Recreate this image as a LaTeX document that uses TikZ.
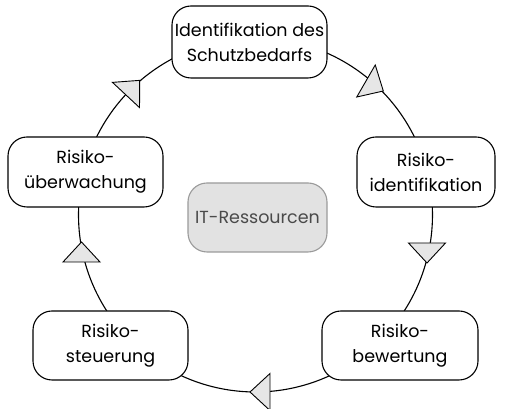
\documentclass[tikz,border=0pt]{standalone}
\usepackage{fontspec}
\setmainfont{Poppins}
\usetikzlibrary{calc}

\definecolor{tripale}{HTML}{E6E6E6}
\definecolor{corefill}{HTML}{E2E2E2}
\definecolor{coreline}{HTML}{9A9A9A}
\definecolor{coretext}{HTML}{4A4A4A}

\tikzset{
  stage/.style={draw=black, line width=1.1pt, fill=white, rounded corners=19pt,
    align=center, inner sep=0pt, font=\fontsize{17.5}{25}\selectfont},
  core/.style={draw=coreline, line width=1.1pt, fill=corefill, rounded corners=19pt,
    align=center, inner sep=0pt, text=coretext, font=\fontsize{17.5}{25}\selectfont},
  ring/.style={draw=black, line width=1.1pt},
  flowtip/.style={draw=black, line width=0.9pt, fill=tripale, line join=miter}
}

% arrowhead: base midpoint #1, pointing direction #2
\newcommand{\flowhead}[2]{%
  \draw[flowtip] ($(#1)+(#2+90:18.5)$) -- ($(#1)+(#2-90:18.5)$) -- ($(#1)+(#2:20)$) -- cycle;}

\begin{document}
\begin{tikzpicture}[x=1pt,y=1pt]
\useasboundingbox (0,0) rectangle (507,409);

\coordinate (C) at (255.5,194);
\def\R{177}

% the cycle
\draw[ring] (C) ++(92:\R) coordinate (a1) arc[start angle=92, end angle=14, radius=\R];
\draw[ring] (C) ++(14:\R) coordinate (a2) arc[start angle=14, end angle=-42, radius=\R];
\draw[ring] (C) ++(-42:\R) coordinate (a3) arc[start angle=-42, end angle=-138, radius=\R];
\draw[ring] (C) ++(-138:\R) coordinate (a4) arc[start angle=-138, end angle=-194, radius=\R];
\draw[ring] (C) ++(166:\R) coordinate (a5) arc[start angle=166, end angle=92, radius=\R];

% stages
\node[stage, minimum width=155pt, minimum height=72pt] (schutz) at (249.5,367)
  {Identifikation des\\Schutzbedarfs};
\node[stage, minimum width=138pt, minimum height=70pt] (ident) at (426,237)
  {Risiko-\\identifikation};
\node[stage, minimum width=156pt, minimum height=69pt] (bew) at (400,63.5)
  {Risiko-\\bewertung};
\node[stage, minimum width=155pt, minimum height=69pt] (steu) at (110.5,63.5)
  {Risiko-\\steuerung};
\node[stage, minimum width=155pt, minimum height=70pt] (ueber) at (85.5,237)
  {Risiko-\\überwachung};
\node[core, minimum width=139pt, minimum height=69pt] (it) at (257.5,191.5)
  {IT-Ressourcen};

% direction markers
\coordinate (m1) at (366,328);
\coordinate (m2) at (427,166);
\coordinate (m3) at (270,17);
\coordinate (m4) at (81.5,147);
\coordinate (m5) at (126,314);
\flowhead{m1}{-30}
\flowhead{m2}{-90}
\flowhead{m3}{180}
\flowhead{m4}{90}
\flowhead{m5}{47}
\end{tikzpicture}
\end{document}
